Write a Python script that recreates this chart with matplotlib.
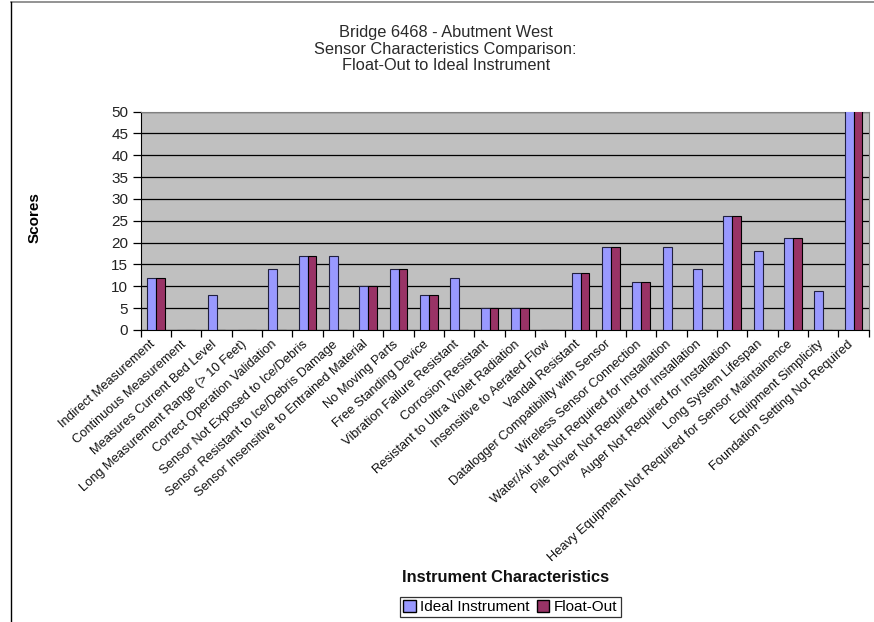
import numpy as np
import matplotlib.pyplot as plt
import matplotlib.transforms as mtransforms
from matplotlib.patches import Patch
from matplotlib.lines import Line2D

plt.rcParams['font.family'] = ['Liberation Sans', 'DejaVu Sans']

characteristics = [
    'Indirect Measurement',
    'Continuous Measurement',
    'Measures Current Bed Level',
    'Long Measurement Range (> 10 Feet)',
    'Correct Operation Validation',
    'Sensor Not Exposed to Ice/Debris',
    'Sensor Resistant to Ice/Debris Damage',
    'Sensor Insensitive to Entrained Material',
    'No Moving Parts',
    'Free Standing Device',
    'Vibration Failure Resistant',
    'Corrosion Resistant',
    'Resistant to Ultra Violet Radiation',
    'Insensitive to Aerated Flow',
    'Vandal Resistant',
    'Datalogger Compatibility with Sensor',
    'Wireless Sensor Connection',
    'Water/Air Jet Not Required for Installation',
    'Pile Driver Not Required for Installation',
    'Auger Not Required for Installation',
    'Long System Lifespan',
    'Heavy Equipment Not Required for Sensor Maintainence',
    'Equipment Simplicity',
    'Foundation Setting Not Required',
]
ideal = [12, 0, 8, 0, 14, 17, 17, 10, 14, 8, 12, 5, 5, 0, 13, 19, 11, 19, 14, 26, 18, 21, 9, 51]
float_out = [12, 0, 0, 0, 0, 17, 0, 10, 14, 8, 0, 5, 5, 0, 13, 19, 11, 0, 0, 26, 0, 21, 0, 51]
yticks = list(range(0, 51, 5))

fig = plt.figure(figsize=(8.74, 6.22), dpi=100)
# outer chart frame (only top and left visible)
fig.add_artist(Line2D([0.0125, 1.0], [0.997, 0.997], color='#808080', lw=1.2))
fig.add_artist(Line2D([0.0125, 0.0125], [0.0, 0.997], color='#000000', lw=1.0))

ax = fig.add_axes([0.161, 0.4695, 0.833, 0.351])
ax.set_facecolor('#C0C0C0')

x = np.arange(len(characteristics))
w = 0.29
ax.bar(x - w / 2, ideal, w, color='#9999FF', edgecolor='#202040', linewidth=0.8,
       label='Ideal Instrument', zorder=3)
ax.bar(x + w / 2, float_out, w, color='#993366', edgecolor='#000000', linewidth=0.8,
       label='Float-Out', zorder=3)

ax.set_xlim(-0.5, len(characteristics) - 0.5)
ax.set_ylim(0, 50)
ax.set_yticks(yticks)
ax.yaxis.grid(True, color='black', linewidth=0.9, zorder=1)
ax.set_axisbelow(True)

for side in ['top', 'right']:
    ax.spines[side].set_color('#808080')
ax.spines['left'].set_color('black')
ax.spines['bottom'].set_color('black')

ax.tick_params(axis='y', direction='out', length=6, width=0.9, labelsize=11,
               labelcolor='#222222', pad=3)
ax.set_xticks(np.arange(len(characteristics) + 1) - 0.5)
ax.set_xticklabels([])
ax.tick_params(axis='x', direction='out', length=5, width=0.9)
ax.set_xticks(x, minor=True)
labels = ax.set_xticklabels(characteristics, minor=True, rotation=42, ha='right',
                            va='top', rotation_mode='anchor', fontsize=9.3,
                            color='#111111')
ax.tick_params(axis='x', which='minor', length=0, pad=6)
shift = mtransforms.ScaledTranslation(-6 / 100, 0, fig.dpi_scale_trans)
for lab in labels:
    lab.set_transform(lab.get_transform() + shift)

fig.text(0.510, 0.96, 'Bridge 6468 - Abutment West\nSensor Characteristics Comparison:\nFloat-Out to Ideal Instrument',
         ha='center', va='top', fontsize=11.8, color='#2a2a2a', linespacing=1.15)
fig.text(0.040, 0.650, 'Scores', rotation=90, ha='center', va='center',
         fontsize=11, fontweight='bold')
fig.text(0.579, 0.072, 'Instrument Characteristics', ha='center', va='center',
         fontsize=11.8, fontweight='bold', color='#111111')

handles = [Patch(facecolor='#9999FF', edgecolor='black', label='Ideal Instrument'),
           Patch(facecolor='#993366', edgecolor='black', label='Float-Out')]
leg = fig.legend(handles=handles, loc='center', bbox_to_anchor=(0.584, 0.024), ncol=2,
                 frameon=True, fancybox=False, edgecolor='black', fontsize=11,
                 handlelength=0.8, handleheight=0.8, handletextpad=0.3,
                 columnspacing=0.5, borderpad=0.2, borderaxespad=0)
leg.get_frame().set_linewidth(0.9)

fig.savefig('out.png', dpi=100)
